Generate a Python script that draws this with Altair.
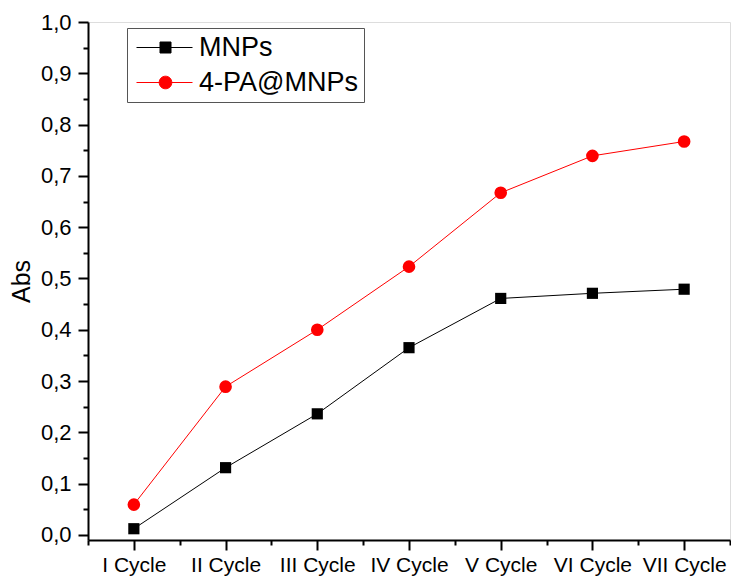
import json
import altair as alt
import pandas as pd

cycles = ["I Cycle", "II Cycle", "III Cycle", "IV Cycle", "V Cycle", "VI Cycle", "VII Cycle"]
mnps = [0.012, 0.131, 0.236, 0.365, 0.461, 0.471, 0.479]
pa_mnps = [0.059, 0.289, 0.400, 0.523, 0.667, 0.739, 0.767]
series_names = ["MNPs", "4-PA@MNPs"]
series_colors = ["#000000", "#ff0000"]
series_shapes = ["square", "circle"]
series_sizes = [125, 160]
y_ticks = [round(i * 0.05, 2) for i in range(21)]
x_ticks = [i * 0.5 - 0.5 for i in range(15)]

rows = []
for i, c in enumerate(cycles):
    rows.append({"idx": i, "cycle": c, "series": series_names[0], "abs": mnps[i]})
    rows.append({"idx": i, "cycle": c, "series": series_names[1], "abs": pa_mnps[i]})
df = pd.DataFrame(rows)

FONT = "Liberation Sans"

x_label_expr = f"datum.value % 1 == 0 ? {json.dumps(cycles)}[datum.value] : ''"
y_label_expr = ("abs(datum.value*10 - round(datum.value*10)) < 0.01 ? "
                "replace(format(datum.value, '.1f'), '.', ',') : ''")

x_enc = alt.X(
    "idx:Q",
    scale=alt.Scale(domain=[-0.5, 6.5], nice=False, zero=False),
    axis=alt.Axis(
        values=x_ticks, labelExpr=x_label_expr, title=None, grid=False,
        domainColor="black", domainWidth=2, tickColor="black", tickWidth=2,
        tickSize={"condition": {"test": "datum.value % 1 != 0", "value": 5}, "value": 10},
        labelFont=FONT, labelFontSize=21, labelColor="black", labelPadding=4,
        labelFlush=False, labelOverlap=False,
    ),
)
y_enc = alt.Y(
    "abs:Q",
    scale=alt.Scale(domain=[-0.01, 1.0], nice=False, zero=False),
    axis=alt.Axis(
        values=y_ticks, labelExpr=y_label_expr, title="Abs", grid=False,
        domainColor="black", domainWidth=2, tickColor="black", tickWidth=2,
        tickSize={"condition": {"test": "abs(datum.value*10 - round(datum.value*10)) > 0.01", "value": 5}, "value": 10},
        labelFont=FONT, labelFontSize=22, labelColor="black", labelPadding=7,
        labelFlush=False, labelOverlap=False,
        titleFont=FONT, titleFontSize=25, titleFontWeight="normal", titleColor="black",
        titleX=-67, titleY=259, titleBaseline="middle", titleAngle=270,
    ),
)

color_scale = alt.Scale(domain=series_names, range=series_colors)

base = alt.Chart(df)

lines = base.mark_line(strokeWidth=1).encode(
    x=x_enc, y=y_enc,
    color=alt.Color("series:N", scale=color_scale, legend=None),
    detail="series:N",
)

point_layers = []
for name, shp, sz in zip(series_names, series_shapes, series_sizes):
    point_layers.append(
        base.transform_filter(alt.datum.series == name)
        .mark_point(filled=True, size=sz, opacity=1, shape=shp)
        .encode(
            x=x_enc, y=y_enc,
            color=alt.Color("series:N", scale=color_scale, legend=None),
        )
    )

sym_square = "M-1,0H4.6M1.35,-0.55H2.45V0.55H1.35Z"
sym_circle = "M-1,0H4.6M2.53,0A0.63,0.63,0,1,1,1.27,0A0.63,0.63,0,1,1,2.53,0Z"

leg = alt.Legend(
    title=None, orient="none", legendX=39, legendY=6,
    strokeColor="#555555", fillColor="white", padding=6,
    labelFont=FONT, labelFontSize=27, labelColor="black", labelOffset=39,
    symbolSize=400, symbolStrokeWidth=1, symbolOpacity=1, rowPadding=7,
)

legend_layer = base.mark_point(filled=True, opacity=0, size=1).encode(
    x=x_enc, y=y_enc,
    fill=alt.Fill("series:N", scale=alt.Scale(domain=series_names, range=series_colors), legend=leg),
    stroke=alt.Stroke("series:N", scale=alt.Scale(domain=series_names, range=series_colors), legend=leg),
    shape=alt.Shape("series:N", scale=alt.Scale(domain=series_names, range=[sym_square, sym_circle]), legend=leg),
)

chart = alt.layer(legend_layer, lines, *point_layers).properties(
    width=642, height=518,
    autosize=alt.AutoSizeParams(type="none"),
    padding={"left": 88, "top": 22, "right": 1, "bottom": 38},
).configure_view(stroke=None).configure(background="white")

chart.save("out.html", embed_options={"renderer": "svg", "actions": False})
